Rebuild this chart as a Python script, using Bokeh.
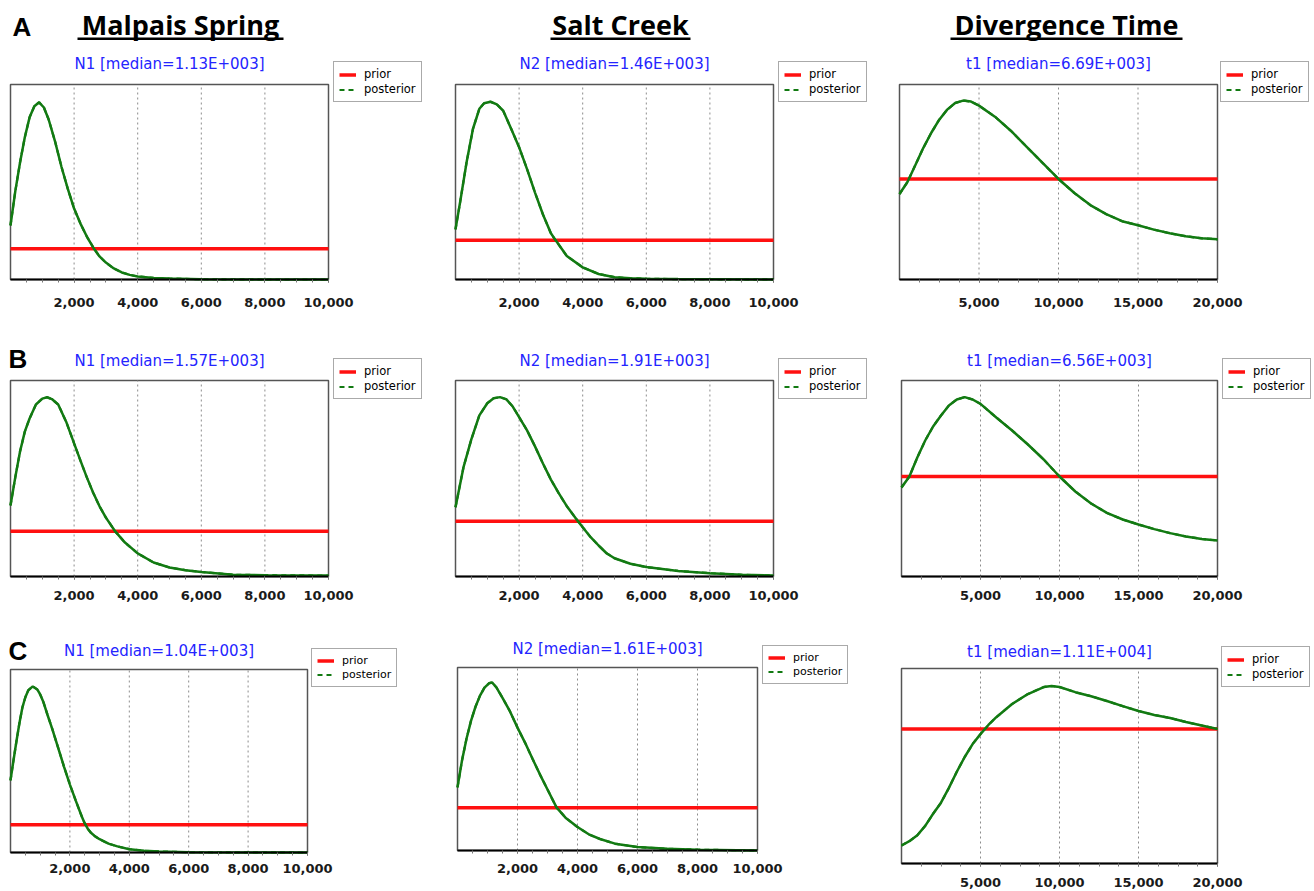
from bokeh.plotting import figure
from bokeh.layouts import column, row
from bokeh.models import (Range1d, FixedTicker, NumeralTickFormatter, Label, Legend,
                          LegendItem, BoxAnnotation)
from bokeh.embed import file_html
from bokeh.resources import INLINE

# ---------------- data (densities in units of 1e-4) ----------------
COLUMN_HEADERS = ["Malpais Spring", "Salt Creek", "Divergence Time"]
ROW_LETTERS = ["A", "B", "C"]
LEGEND_LABELS = ["prior", "posterior"]

N_TICKS = [2000, 4000, 6000, 8000, 10000]
T_TICKS = [5000, 10000, 15000, 20000]
N_RANGE = [0, 10000]
T_RANGE = [0, 20000]
PRIOR_N = 1.0
PRIOR_T = 0.5

a1_title = "N1 [median=1.13E+003]"
a1_x = [0, 150, 300, 450, 600, 750, 900, 1050, 1200, 1400, 1600, 1800, 2000, 2200, 2400, 2620,
        2800, 3000, 3250, 3500, 3750, 4000, 4500, 5000, 6000, 8000, 10000]
a1_y = [1.76, 2.87, 3.81, 4.63, 5.28, 5.64, 5.77, 5.60, 5.21, 4.50, 3.68, 2.96, 2.31, 1.82, 1.40,
        1.01, 0.75, 0.55, 0.36, 0.23, 0.15, 0.10, 0.05, 0.03, 0.01, 0.0, 0.0]

a2_title = "N2 [median=1.46E+003]"
a2_x = [0, 150, 350, 550, 750, 900, 1100, 1300, 1500, 1750, 2000, 2250, 2500, 2750, 3000, 3150,
        3500, 4000, 4500, 5000, 5500, 6000, 7000, 10000]
a2_y = [1.28, 2.00, 3.00, 3.85, 4.36, 4.50, 4.54, 4.47, 4.31, 3.85, 3.38, 2.82, 2.22, 1.66, 1.18,
        1.00, 0.60, 0.31, 0.14, 0.06, 0.03, 0.02, 0.01, 0.0]

a3_title = "t1 [median=6.69E+003]"
a3_x = [0, 500, 1000, 1500, 2000, 2500, 3000, 3500, 4000, 4500, 5000, 6000, 7000, 8000, 9000,
        10000, 11000, 12000, 13000, 14000, 15000, 16000, 17000, 18000, 19000, 20000]
a3_y = [0.425, 0.485, 0.57, 0.655, 0.73, 0.795, 0.845, 0.878, 0.89, 0.885, 0.865, 0.81, 0.74,
        0.66, 0.58, 0.50, 0.43, 0.37, 0.325, 0.29, 0.27, 0.248, 0.23, 0.215, 0.205, 0.20]

b1_title = "N1 [median=1.57E+003]"
b1_x = [0, 150, 300, 450, 600, 800, 1000, 1150, 1300, 1500, 1750, 2000, 2200, 2400, 2600, 2800,
        3000, 3300, 3600, 4000, 4500, 5000, 5500, 6000, 7000, 8000, 10000]
b1_y = [1.57, 2.19, 2.76, 3.20, 3.49, 3.80, 3.93, 3.96, 3.92, 3.80, 3.42, 2.94, 2.56, 2.19, 1.85,
        1.55, 1.30, 0.99, 0.75, 0.51, 0.31, 0.20, 0.14, 0.10, 0.04, 0.03, 0.02]

b2_title = "N2 [median=1.91E+003]"
b2_x = [0, 250, 500, 750, 1000, 1200, 1400, 1600, 1800, 2000, 2250, 2500, 2750, 3000, 3250, 3500,
        3850, 4000, 4250, 4500, 4750, 5000, 5500, 6000, 7000, 8000, 9000, 10000]
b2_y = [1.25, 1.97, 2.48, 2.91, 3.13, 3.22, 3.24, 3.20, 3.07, 2.88, 2.64, 2.35, 2.04, 1.75, 1.50,
        1.27, 1.00, 0.89, 0.71, 0.56, 0.42, 0.33, 0.23, 0.17, 0.10, 0.06, 0.03, 0.02]

b3_title = "t1 [median=6.56E+003]"
b3_x = [0, 500, 1000, 1500, 2000, 2500, 3000, 3500, 4000, 4500, 5000, 6000, 7000, 8000, 9000,
        10000, 11000, 12000, 13000, 14000, 15000, 16000, 17000, 18000, 19000, 20000]
b3_y = [0.445, 0.50, 0.595, 0.68, 0.75, 0.805, 0.855, 0.885, 0.897, 0.885, 0.863, 0.795, 0.73,
        0.66, 0.585, 0.50, 0.425, 0.365, 0.318, 0.285, 0.26, 0.237, 0.217, 0.20, 0.188, 0.18]

c1_title = "N1 [median=1.04E+003]"
c1_x = [0, 100, 200, 300, 400, 500, 600, 750, 900, 1000, 1100, 1250, 1400, 1600, 1800, 2000, 2200,
        2400, 2500, 2600, 2700, 2850, 3000, 3300, 3600, 4000, 4500, 5000, 6000, 10000]
c1_y = [2.60, 3.32, 4.01, 4.66, 5.23, 5.60, 5.85, 5.99, 5.88, 5.70, 5.45, 4.95, 4.48, 3.79, 3.10,
        2.45, 1.86, 1.30, 1.05, 0.86, 0.72, 0.58, 0.48, 0.32, 0.22, 0.12, 0.06, 0.04, 0.01, 0.0]

c2_title = "N2 [median=1.61E+003]"
c2_x = [0, 150, 300, 450, 600, 750, 900, 1050, 1150, 1300, 1500, 1750, 2000, 2250, 2500, 2750,
        3000, 3300, 3600, 4000, 4400, 4750, 5250, 6000, 7000, 8000, 10000]
c2_y = [1.48, 2.11, 2.62, 3.04, 3.37, 3.63, 3.82, 3.92, 3.94, 3.82, 3.58, 3.26, 2.88, 2.53, 2.15,
        1.78, 1.43, 1.01, 0.77, 0.55, 0.37, 0.27, 0.16, 0.08, 0.04, 0.02, 0.0]

c3_title = "t1 [median=1.11E+004]"
c3_x = [0, 500, 1000, 1500, 2000, 2500, 3000, 3500, 4000, 4500, 5000, 5500, 6000, 7000, 8000,
        9000, 9500, 10000, 11000, 12000, 13000, 14000, 15000, 16000, 17000, 18000, 19000, 20000]
c3_y = [0.067, 0.083, 0.105, 0.14, 0.185, 0.226, 0.281, 0.341, 0.396, 0.444, 0.481, 0.515, 0.544,
        0.593, 0.630, 0.656, 0.660, 0.656, 0.637, 0.622, 0.604, 0.585, 0.567, 0.552, 0.541, 0.526,
        0.513, 0.50]

# upper end of each panel's density axis
YMAX = {"a1": 6.35, "a2": 4.98, "a3": 0.97, "b1": 4.33, "b2": 3.54, "b3": 0.98,
        "c1": 6.60, "c2": 4.29, "c3": 0.725}

# ---------------- layout geometry (page pixels) ----------------
ROWS = [(0, 328), (328, 615), (615, 891)]
COLS = [(0, 448), (448, 891), (891, 1314)]

GREEN = "#127a12"
RED = "#ff1010"
BLUE = "#2424ff"
FRAME = "#555555"


def panel(r, c, xs, ys, kind, ymax, title, rect, title_y, leg_xy, standoff, leg_font="11.5px"):
    fx0, fx1 = COLS[c]
    fy0, fy1 = ROWS[r]
    W, H = fx1 - fx0, fy1 - fy0
    L, T, R, B = rect
    fw, fh = R - L, B - T

    xr = N_RANGE if kind == "N" else T_RANGE
    ticks = N_TICKS if kind == "N" else T_TICKS
    step = (ticks[1] - ticks[0]) / 4
    minor = [xr[0] + step * i for i in range(1, int((xr[1] - xr[0]) / step) + 1)]
    prior = PRIOR_N if kind == "N" else PRIOR_T
    span = xr[1] - xr[0]

    x_start = xr[0] - (L - fx0) * span / fw
    x_end = xr[1] + (fx1 - R) * span / fw
    y_start = -(fy1 - B) * ymax / fh
    y_end = ymax + (T - fy0) * ymax / fh

    p = figure(width=W, height=H, x_range=Range1d(x_start, x_end),
               y_range=Range1d(y_start, y_end),
               output_backend="svg", toolbar_location=None, y_axis_location=None,
               min_border=0)
    p.background_fill_color = "white"
    p.border_fill_color = "white"
    p.outline_line_color = None
    p.xgrid.visible = False
    p.ygrid.visible = False

    def sx(x):
        return x - fx0

    def sy(y):
        return fy1 - y

    # plot box
    p.add_layout(BoxAnnotation(left=xr[0], right=xr[1], bottom=0, top=ymax,
                               fill_color=None, fill_alpha=0, line_color=FRAME,
                               line_alpha=1.0, line_width=1.5, level="underlay"))
    # dotted vertical grid at the major ticks
    p.segment(x0=ticks[:-1], y0=[0] * (len(ticks) - 1), x1=ticks[:-1],
              y1=[ymax] * (len(ticks) - 1), line_color="#8c8c8c", line_dash="2 3",
              line_width=1)

    ax = p.xaxis[0]
    ax.fixed_location = 0
    ax.bounds = (xr[0], xr[1])
    ax.ticker = FixedTicker(ticks=ticks, minor_ticks=minor)
    ax.formatter = NumeralTickFormatter(format="0,0")
    ax.axis_line_color = "black"
    ax.axis_line_width = 2
    ax.major_tick_in = 0
    ax.major_tick_out = 3
    ax.minor_tick_in = 0
    ax.minor_tick_out = 3
    ax.major_tick_line_color = "#555555"
    ax.minor_tick_line_color = "#777777"
    ax.major_label_text_font = "DejaVu Sans"
    ax.major_label_text_font_style = "bold"
    ax.major_label_text_font_size = "13px"
    ax.major_label_text_color = "#1a1a1a"
    ax.major_label_standoff = standoff

    r_prior = p.line(xr, [prior, prior], line_color=RED, line_width=3.5)
    # dashed posterior (legend entry) underneath the solid-looking posterior curve
    r_post_leg = p.line(xs, ys, line_color=GREEN, line_width=2.2, line_dash="5 4")
    p.line(xs, ys, line_color=GREEN, line_width=2.5)

    legend = Legend(items=[LegendItem(label=LEGEND_LABELS[0], renderers=[r_prior]),
                           LegendItem(label=LEGEND_LABELS[1], renderers=[r_post_leg])],
                    location=(sx(leg_xy[0]), sy(leg_xy[1])), margin=0, padding=5, spacing=1,
                    glyph_width=17, glyph_height=13, label_height=13, label_standoff=8,
                    label_text_font="DejaVu Sans", label_text_font_size=leg_font,
                    label_text_color="black",
                    border_line_color="#555555", border_line_width=1.5,
                    background_fill_color="white", background_fill_alpha=1.0)
    p.add_layout(legend)

    p.add_layout(Label(x=sx((L + R) / 2), y=sy(title_y), x_units="screen", y_units="screen",
                       text=title, text_align="center", text_baseline="middle",
                       text_color=BLUE, text_font="DejaVu Sans", text_font_size="15px"))
    p._sx, p._sy = sx, sy
    return p


def header(p, text, cx, ul_left, ul_right):
    sx, sy = p._sx, p._sy
    p.add_layout(Label(x=sx(cx), y=sy(24), x_units="screen", y_units="screen", text=text,
                       text_align="center", text_baseline="middle", text_color="black",
                       text_font="Open Sans", text_font_style="bold", text_font_size="27px"))
    p.add_layout(BoxAnnotation(left=sx(ul_left), right=sx(ul_right), bottom=sy(39.5),
                               top=sy(37), left_units="screen", right_units="screen",
                               bottom_units="screen", top_units="screen",
                               fill_color="black", fill_alpha=1.0, line_color=None))


def letter(p, text, x, y):
    sx, sy = p._sx, p._sy
    p.add_layout(Label(x=sx(x), y=sy(y), x_units="screen", y_units="screen", text=text,
                       text_align="left", text_baseline="middle", text_color="black",
                       text_font="Liberation Sans", text_font_style="bold",
                       text_font_size="26px"))


# Row A
pa1 = panel(0, 0, a1_x, a1_y, "N", YMAX["a1"], a1_title, (10, 84, 328, 279), 63, (333, 102), 15)
pa2 = panel(0, 1, a2_x, a2_y, "N", YMAX["a2"], a2_title, (455, 84, 773, 279), 63, (778, 102), 15)
pa3 = panel(0, 2, a3_x, a3_y, "T", YMAX["a3"], a3_title, (899, 84, 1217, 279), 63, (1220, 102), 15)
header(pa1, COLUMN_HEADERS[0], 180, 77, 283)
header(pa2, COLUMN_HEADERS[1], 620, 550, 690)
header(pa3, COLUMN_HEADERS[2], 1066, 950, 1182)
letter(pa1, ROW_LETTERS[0], 12, 26.5)

# Row B
pb1 = panel(1, 0, b1_x, b1_y, "N", YMAX["b1"], b1_title, (10, 380, 328, 576), 360, (333, 399), 11)
pb2 = panel(1, 1, b2_x, b2_y, "N", YMAX["b2"], b2_title, (455, 380, 773, 576), 360, (778, 399), 11)
pb3 = panel(1, 2, b3_x, b3_y, "T", YMAX["b3"], b3_title, (901, 380, 1217, 576), 360, (1222, 399), 11)
letter(pb1, ROW_LETTERS[1], 8, 358)

# Row C
pc1 = panel(2, 0, c1_x, c1_y, "N", YMAX["c1"], c1_title, (10, 669, 307, 852), 650, (311, 687), 8, "11px")
pc2 = panel(2, 1, c2_x, c2_y, "N", YMAX["c2"], c2_title, (457, 667, 757, 850), 648, (762, 684), 10, "11px")
pc3 = panel(2, 2, c3_x, c3_y, "T", YMAX["c3"], c3_title, (901, 668, 1217, 863), 651.5, (1221, 687), 11)
letter(pc1, ROW_LETTERS[2], 8, 650)

layout = column(row(pa1, pa2, pa3, spacing=0),
                row(pb1, pb2, pb3, spacing=0),
                row(pc1, pc2, pc3, spacing=0), spacing=0)

open("out.html", "w").write(file_html(layout, INLINE))
